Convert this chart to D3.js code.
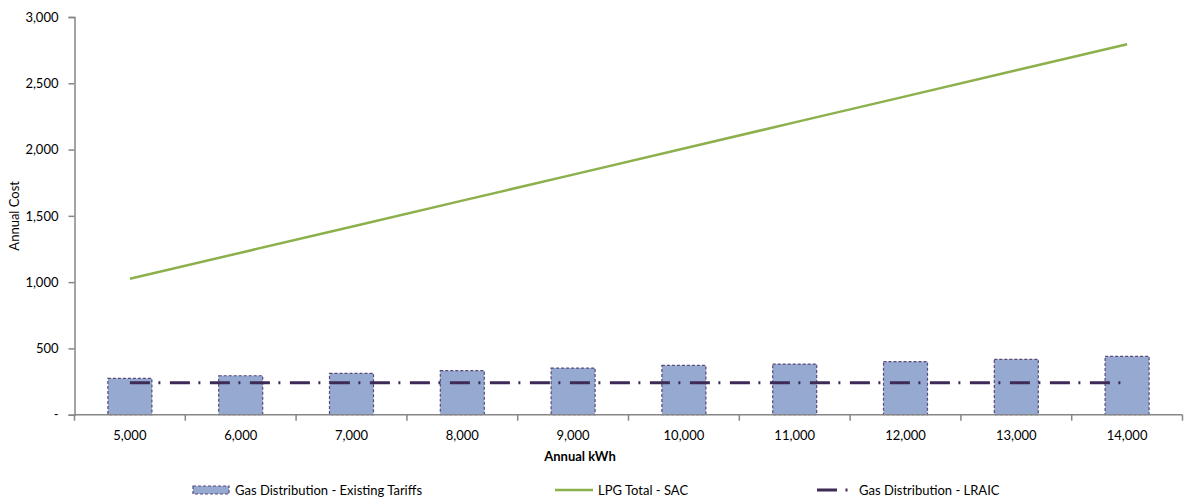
<!DOCTYPE html>
<html>
<head>
<meta charset="utf-8">
<script src="https://cdn.jsdelivr.net/npm/d3@7"></script>
<style>
  html, body { margin: 0; padding: 0; background: #fff; }
  svg text { font-family: Lato, "Open Sans", sans-serif; fill: #000; }
</style>
</head>
<body>
<svg id="chart" width="1184" height="502"></svg>
<script>
const categories = ["5,000","6,000","7,000","8,000","9,000","10,000","11,000","12,000","13,000","14,000"];
const existingTariffs = [274, 294, 312, 332, 352, 372, 382, 400, 418, 440];
const lpgTotalSAC = [1025, 1222, 1418, 1615, 1811, 2008, 2205, 2401, 2598, 2794];
const lraic = [241, 241, 241, 241, 241, 241, 241, 241, 241, 241];
const yTicks = [0, 500, 1000, 1500, 2000, 2500, 3000];
const seriesNames = ["Gas Distribution - Existing Tariffs", "LPG Total - SAC", "Gas Distribution - LRAIC"];

(function () {
const svg = d3.select("#chart");
const mLeft = 74.5, mRight = 1182.5, mTop = 17, mBottom = 414.7;

const xb = d3.scaleBand().domain(categories).range([mLeft, mRight]);
const y = d3.scaleLinear().domain([0, 3000]).range([mBottom, mTop]);

const axisColor = "#868686";
const cx = c => xb(c) + xb.bandwidth() / 2;

// bars
svg.append("g").selectAll("rect").data(existingTariffs).join("rect")
  .attr("x", (d, i) => cx(categories[i]) - 22)
  .attr("width", 44)
  .attr("y", d => y(d))
  .attr("height", d => y(0) - y(d))
  .attr("fill", "#95a9d1")
  .attr("stroke", "#574a78")
  .attr("stroke-width", 1.2)
  .attr("stroke-dasharray", "3,2");

// y axis
const yAxis = svg.append("g").attr("transform", `translate(${mLeft},0)`)
  .call(d3.axisLeft(y).tickValues(yTicks).tickSize(6).tickPadding(10)
    .tickFormat(d => d === 0 ? "-" : d3.format(",")(d)));
yAxis.select(".domain").attr("stroke", axisColor).attr("stroke-width", 1.5);
yAxis.selectAll(".tick line").attr("stroke", axisColor).attr("stroke-width", 1.5);
yAxis.selectAll(".tick text").style("font-size", "13px").attr("fill", "#000");

// x axis
const xAxisG = svg.append("g").attr("transform", `translate(0,${mBottom})`);
xAxisG.append("line").attr("x1", mLeft).attr("x2", mRight).attr("y1", 0).attr("y2", 0)
  .attr("stroke", axisColor).attr("stroke-width", 1.5);
const boundaries = categories.map(c => xb(c)).concat([mRight]);
xAxisG.selectAll("line.t").data(boundaries).join("line").attr("class", "t")
  .attr("x1", d => d).attr("x2", d => d).attr("y1", 0).attr("y2", 6)
  .attr("stroke", axisColor).attr("stroke-width", 1.5);
xAxisG.selectAll("text").data(categories).join("text")
  .attr("x", d => cx(d))
  .attr("y", 25)
  .attr("text-anchor", "middle")
  .style("font-size", "13px")
  .text(d => d);

// LRAIC dash-dot line
const lineGen = d3.line().x((d, i) => cx(categories[i])).y(d => y(d));
svg.append("path").datum(lraic).attr("d", lineGen)
  .attr("fill", "none").attr("stroke", "#3d2b55").attr("stroke-width", 3)
  .attr("stroke-dasharray", "20,8.5,2,9.5");

// LPG line
svg.append("path").datum(lpgTotalSAC).attr("d", lineGen)
  .attr("fill", "none").attr("stroke", "#8cb04c").attr("stroke-width", 2.5);

// axis titles
svg.append("text").attr("x", 580).attr("y", 461)
  .attr("text-anchor", "middle").style("font-size", "13px").style("font-weight", "bold")
  .text("Annual kWh");
svg.append("text").attr("transform", `translate(19,${(mTop + mBottom) / 2}) rotate(-90)`)
  .attr("text-anchor", "middle").style("font-size", "13px")
  .text("Annual Cost");

// legend
const leg = svg.append("g");
leg.append("rect").attr("x", 193).attr("y", 486).attr("width", 36).attr("height", 8)
  .attr("fill", "#95a9d1").attr("stroke", "#574a78").attr("stroke-width", 1.2).attr("stroke-dasharray", "3,2");
leg.append("text").attr("x", 235).attr("y", 495).style("font-size", "13px").text(seriesNames[0]);
leg.append("line").attr("x1", 555).attr("x2", 593).attr("y1", 490).attr("y2", 490)
  .attr("stroke", "#8cb04c").attr("stroke-width", 2.5);
leg.append("text").attr("x", 598).attr("y", 495).style("font-size", "13px").text(seriesNames[1]);
leg.append("line").attr("x1", 817).attr("x2", 849).attr("y1", 490).attr("y2", 490)
  .attr("stroke", "#3d2b55").attr("stroke-width", 3).attr("stroke-dasharray", "20,8.5,2,9.5");
leg.append("text").attr("x", 859).attr("y", 495).style("font-size", "13px").text(seriesNames[2]);
})();
</script>
</body>
</html>
